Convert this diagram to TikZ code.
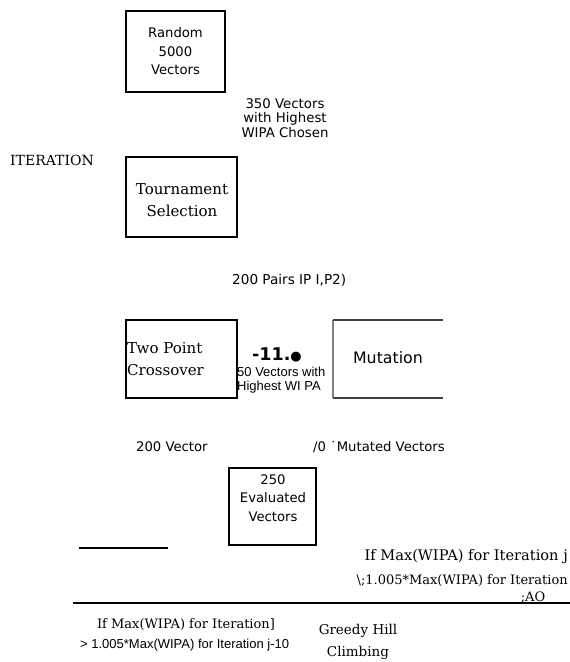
\documentclass[tikz,border=0pt]{standalone}
\usepackage{fontspec}
\setmainfont{DejaVu Serif}
\newfontfamily\vsans{DejaVu Sans}
\newfontfamily\asans{Liberation Sans}
\begin{document}
\begin{tikzpicture}[x=1pt,y=-1pt,
  box/.style={draw,line width=1.8pt,inner sep=0pt},
  txt/.style={inner sep=0pt,align=center},
  vs/.style={font=\vsans\fontsize{13.2}{18.5}\selectfont},
  vsm/.style={font=\vsans\fontsize{13.3}{14.5}\selectfont},
  as/.style={font=\asans\fontsize{13}{14}\selectfont},
  sf/.style={font=\fontsize{15}{22}\selectfont},
  sfs/.style={font=\fontsize{13}{20}\selectfont},
  rule/.style={line width=1.8pt}]
\useasboundingbox (0,0) rectangle (570,662);
% Random box
\node[box,minimum width=99pt,minimum height=81pt] (rand) at (175.5,51.5) {};
\node[txt,vs] (randt) at (rand.center) {Random\\5000\\Vectors};
\node[txt,vsm] (l350) at (285,118) {350 Vectors\\with Highest\\WIPA Chosen};
\node[txt,font=\fontsize{14}{22}\selectfont,anchor=west] (iter) at (10,160) {ITERATION};
% Tournament
\node[box,minimum width=111pt,minimum height=80pt] (tour) at (181.5,197) {};
\node[txt,sf] (tourt) at (182,200) {Tournament\\Selection};
\node[txt,font=\vsans\fontsize{13.6}{14}\selectfont,anchor=west] (pairs) at (232,280) {200 Pairs IP I,P2)};
% Crossover
\node[box,minimum width=111pt,minimum height=78pt] (cross) at (181.5,359) {};
\node[txt,sf,align=left,anchor=west] (crosst) at (127,359.5) {Two Point\\Crossover};
\node[txt,font=\vsans\bfseries\fontsize{17.5}{18}\selectfont] (dot) at (277,355) {-11.{\fontsize{13}{14}\selectfont●}};
\node[txt,as,align=left,anchor=west] (l50) at (237,380) {50 Vectors with\\Highest WI PA};
% Mutation (open right side)
\coordinate (mtl) at (333,320);
\coordinate (mbl) at (333,398);
\coordinate (mtr) at (443,320);
\coordinate (mbr) at (443,398);
\draw[line width=1.2pt,gray] (mtl) -- (mbl);
\draw[line width=1.8pt,black!75] (mtl) -- (mtr);
\draw[line width=1.8pt,black!75] (mbl) -- (mbr);
\node[txt,font=\vsans\fontsize{15.8}{18}\selectfont] (mut) at (388,358) {Mutation};
\node[txt,vs,anchor=west] (v200) at (136,447) {200 Vector};
\node[txt,vs,anchor=west] (mutv) at (313,447) {/0 ˙Mutated Vectors};
% Evaluated
\node[box,minimum width=87pt,minimum height=77pt] (eval) at (272.5,506.5) {};
\node[txt,vs] (evalt) at (273,498) {250\\Evaluated\\Vectors};
\coordinate (la) at (79,548);
\coordinate (lb) at (168,548);
\draw[rule] (la) -- (lb);
\node[txt,font=\fontsize{14.6}{20}\selectfont,anchor=east] (if1) at (568,557) {If Max(WIPA) for Iteration j};
\node[txt,sfs,anchor=east] (if2) at (568,581) {\textbackslash;1.005*Max(WIPA) for Iteration};
\node[txt,sfs] (ao) at (533,598) {;AO};
\coordinate (lc) at (73,603);
\coordinate (ld) at (570,603);
\draw[line width=2.2pt] (lc) -- (ld);
\node[txt,sfs] (if3) at (186,625) {If Max(WIPA) for Iteration]};
\node[txt,as,anchor=west] (gt) at (80,645) {> 1.005*Max(WIPA) for Iteration j-10};
\node[txt,font=\fontsize{13.5}{22}\selectfont] (greedy) at (358,642) {Greedy Hill\\Climbing};
\end{tikzpicture}
\end{document}
